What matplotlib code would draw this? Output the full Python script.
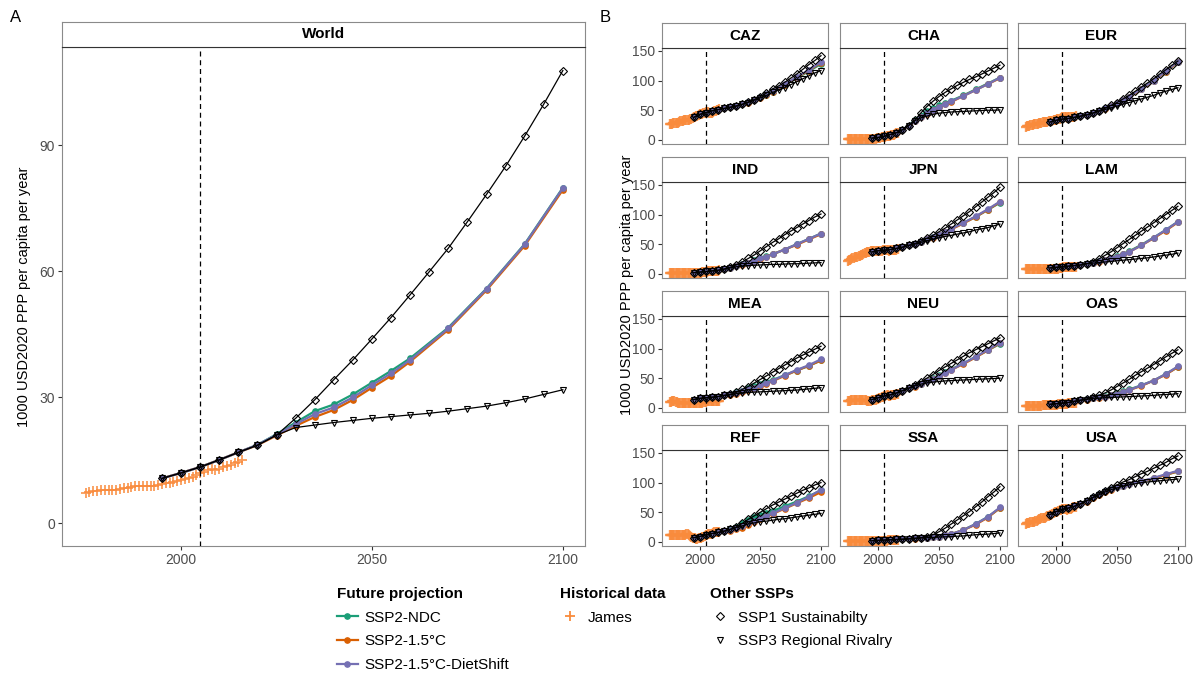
import numpy as np
import matplotlib.pyplot as plt
from matplotlib.lines import Line2D

plt.rcParams['font.family'] = ['Liberation Sans', 'DejaVu Sans']

W, H = 1202, 675

# ---- years ----
hist_years = np.arange(1975, 2017)
ssp_years = np.arange(1995, 2101, 5)
ssp2_years = [1995, 2000, 2005, 2010, 2015, 2020, 2025, 2030, 2035, 2040,
              2045, 2050, 2055, 2060, 2070, 2080, 2090, 2100]

# ---- World ----
world_hist = [7.3, 7.5, 7.7, 7.8, 7.9, 7.9, 7.9, 7.9, 8.0, 8.2,
              8.3, 8.4, 8.6, 8.8, 8.9, 9.0, 8.9, 8.9, 9.0, 9.1,
              9.3, 9.5, 9.7, 9.8, 10.1, 10.4, 10.5, 10.8, 11.1, 11.6,
              11.9, 12.3, 12.7, 12.9, 12.6, 13.0, 13.3, 13.6, 13.9, 14.3,
              14.7, 15.1]
world_ssp1 = [10.7, 12.0, 13.4, 15.1, 16.9, 18.6, 21.0, 25.0, 29.4, 34.2, 38.9,
              43.9, 49.0, 54.4, 59.9, 65.5, 71.8, 78.3, 85.0, 92.2, 99.8, 107.8]
world_ssp3 = [10.7, 12.0, 13.4, 15.1, 16.9, 18.6, 21.0, 22.8, 23.4, 24.0, 24.5,
              25.0, 25.4, 25.8, 26.2, 26.7, 27.3, 27.9, 28.7, 29.6, 30.7, 31.8]
world_ndc = [10.7, 12.0, 13.4, 15.1, 16.9, 18.7, 21.2, 24.0, 26.7, 28.3, 30.7,
             33.5, 36.3, 39.3, 46.6, 55.9, 66.5, 79.9]
world_15c = [10.7, 12.0, 13.4, 15.1, 16.9, 18.6, 20.9, 23.2, 25.3, 27.0, 29.4,
             32.3, 35.1, 38.5, 46.1, 55.5, 66.1, 79.4]
world_diet = [10.7, 12.0, 13.4, 15.1, 16.9, 18.7, 21.1, 23.6, 26.0, 27.6, 30.0,
              32.9, 35.7, 38.9, 46.4, 55.8, 66.4, 79.8]

# ---- regions ----
regions = ['CAZ', 'CHA', 'EUR', 'IND', 'JPN', 'LAM',
           'MEA', 'NEU', 'OAS', 'REF', 'SSA', 'USA']

caz_hist = [26, 27, 27, 28, 28, 29, 29, 29, 30, 31,
            32, 32, 33, 34, 34, 34, 34, 35, 36, 37,
            38, 39, 40, 41, 42, 43, 43, 44, 45, 46,
            47, 47, 47, 46, 45, 46, 47, 48, 49, 50,
            51, 52]
caz_ssp1 = [38, 43, 46, 49, 51, 53, 55, 57, 60, 64, 68, 73, 79, 86, 91, 97, 104, 111, 119, 127, 134, 142]
caz_ssp3 = [38, 43, 46, 49, 51, 53, 55, 57, 60, 63, 67, 71, 75, 80, 84, 88, 93, 98, 103, 108, 113, 117]
caz_ndc = [38, 43, 46, 49, 51, 53, 55, 57, 60, 64, 67, 72, 76, 81, 93, 104, 116, 128]
caz_15c = [38, 43, 46, 49, 51, 53, 55, 57, 60, 63, 67, 71, 76, 81, 93, 105, 117, 130]
caz_diet = [38, 43, 46, 49, 51, 53, 55, 57, 60, 64, 67, 72, 77, 82, 94, 106, 118, 131]

cha_hist = [1, 1, 1, 1, 1, 1, 1, 1, 1, 1,
            1, 1, 1, 1, 1, 1, 1, 1, 2, 2,
            2, 2, 2, 2, 3, 3, 3, 3, 4, 4,
            5, 5, 6, 6, 7, 7, 8, 9, 9, 10,
            11, 12]
cha_ssp1 = [3, 4, 6, 9, 12, 17, 24, 33, 45, 56, 65, 73, 80, 86, 92, 97, 102, 106, 111, 116, 121, 126]
cha_ssp3 = [3, 4, 6, 9, 12, 17, 24, 32, 37, 40, 43, 45, 46, 47, 47.5, 48, 48.5, 49, 49.5, 50, 50, 50.5]
cha_ndc = [3, 4, 6, 9, 12, 17, 24, 33, 41, 48, 53, 58, 62, 66, 75, 85, 95, 105]
cha_15c = [3, 4, 6, 9, 12, 17, 23, 31, 38, 44, 50, 55, 60, 64, 74, 84, 94, 104]
cha_diet = [3, 4, 6, 9, 12, 17, 24, 32, 39, 45, 51, 56, 61, 65, 74, 84, 94, 105]

eur_hist = [22, 23, 24, 24, 25, 25, 25, 26, 26, 27,
            27, 28, 28, 29, 30, 30, 30, 30, 30, 31,
            31, 32, 32, 33, 34, 34, 35, 35, 36, 37,
            38, 38, 39, 38, 37, 38, 38, 38, 38, 39,
            39, 40]
eur_ssp1 = [30, 33, 35, 36, 38, 40, 42, 45, 49, 53, 58, 63, 69, 75, 82, 89, 96, 103, 111, 118, 126, 133]
eur_ssp3 = [30, 33, 35, 36, 38, 40, 42, 45, 48, 51, 54, 57, 60, 63, 66, 69, 72, 75, 79, 82, 85, 88]
eur_ndc = [30, 33, 35, 36, 38, 40, 42, 45, 49, 53, 57, 62, 67, 73, 86, 100, 115, 131]
eur_15c = [30, 33, 35, 36, 38, 40, 42, 45, 48, 52, 57, 62, 67, 72, 85, 99, 115, 131]
eur_diet = [30, 33, 35, 36, 38, 40, 42, 45, 49, 53, 57, 62, 67, 73, 86, 100, 116, 132]

ind_hist = [1, 1, 1, 1, 1, 1, 1, 1, 1, 1,
            1, 1, 1, 1, 1, 2, 2, 2, 2, 2,
            2, 2, 2, 2, 2, 2, 2, 3, 3, 3,
            3, 3, 4, 4, 4, 4, 4, 5, 5, 5,
            5, 6]
ind_ssp1 = [2, 3, 4, 5, 6, 8, 11, 15, 20, 26, 32, 39, 46, 53, 59, 66, 72, 78, 84, 90, 96, 101]
ind_ssp3 = [2, 3, 4, 5, 6, 8, 10, 12, 13, 14, 14.5, 15, 15.5, 16, 16, 16.5, 17, 17, 17.5, 18, 18.5, 19]
ind_ndc = [2, 3, 4, 5, 6, 8, 10, 13, 16, 19, 23, 26, 30, 33, 41, 50, 59, 68]
ind_15c = [2, 3, 4, 5, 6, 8, 10, 13, 15, 18, 22, 25, 29, 33, 41, 49, 58, 67]
ind_diet = [2, 3, 4, 5, 6, 8, 10, 13, 16, 19, 22, 26, 29, 33, 41, 50, 59, 68]

jpn_hist = [22, 23, 24, 25, 26, 27, 28, 28, 29, 30,
            30, 31, 32, 33, 35, 36, 37, 37, 37, 38,
            38, 38, 38, 38, 38, 38, 39, 39, 39, 40,
            40, 40, 41, 40, 38, 40, 40, 40, 41, 41,
            41, 42]
jpn_ssp1 = [37, 39, 40, 41, 43, 45, 48, 51, 55, 60, 65, 71, 77, 84, 91, 98, 105, 113, 121, 129, 137, 146]
jpn_ssp3 = [37, 39, 40, 41, 43, 45, 48, 50, 53, 56, 58, 61, 63, 65, 67, 69, 71, 74, 76, 78, 81, 84]
jpn_ndc = [37, 39, 40, 41, 43, 45, 48, 51, 54, 58, 62, 66, 71, 76, 86, 96, 108, 120]
jpn_15c = [37, 39, 40, 41, 43, 45, 48, 51, 54, 58, 61, 66, 70, 75, 85, 96, 108, 121]
jpn_diet = [37, 39, 40, 41, 43, 45, 48, 51, 54, 58, 62, 66, 71, 76, 86, 97, 109, 122]

lam_hist = [8, 8, 9, 9, 9, 9, 9, 9, 8, 8,
            8, 8, 8, 8, 8, 8, 8, 8, 8, 9,
            9, 9, 9, 9, 9, 9, 9, 9, 10, 10,
            10, 11, 11, 11, 11, 11, 12, 12, 12, 12,
            12, 12]
lam_ssp1 = [10, 11, 12, 13, 14, 15, 17, 20, 25, 31, 37, 44, 51, 58, 65, 72, 79, 86, 93, 100, 107, 114]
lam_ssp3 = [10, 11, 12, 13, 14, 15, 17, 18, 19, 20, 21, 22, 23, 24, 25, 26, 27, 28.5, 30, 31.5, 33, 35]
lam_ndc = [10, 11, 12, 13, 14, 15, 17, 19, 21, 24, 27, 30, 34, 38, 49, 61, 74, 88]
lam_15c = [10, 11, 12, 13, 14, 15, 16, 18, 20, 23, 26, 29, 33, 37, 48, 60, 73, 87]
lam_diet = [10, 11, 12, 13, 14, 15, 17, 19, 21, 23, 26, 29, 33, 37, 48, 61, 74, 88]

mea_hist = [10, 10, 11, 11, 11, 10, 10, 9, 9, 8,
            8, 8, 8, 8, 8, 8, 8, 8, 8, 8,
            8, 8, 8, 8, 8, 9, 9, 9, 10, 10,
            10, 11, 11, 11, 11, 11, 11, 12, 12, 12,
            12, 12]
mea_ssp1 = [14, 16, 17, 18, 19, 21, 23, 26, 31, 36, 42, 48, 54, 60, 66, 72, 78, 84, 89, 94, 99, 104]
mea_ssp3 = [14, 16, 17, 18, 19, 21, 22, 24, 25, 26, 26.5, 27, 27.5, 28, 28.5, 29, 29.5, 30, 31, 32, 33, 34]
mea_ndc = [14, 16, 17, 18, 19, 21, 23, 26, 29, 33, 37, 41, 44, 47, 55, 63, 71, 80]
mea_15c = [14, 16, 17, 18, 19, 21, 22, 24, 27, 30, 33, 37, 41, 45, 54, 63, 71, 80]
mea_diet = [14, 16, 17, 18, 19, 21, 23, 25, 28, 31, 34, 38, 42, 46, 55, 64, 72, 82]

neu_hist = [12, 12, 12, 13, 13, 13, 13, 13, 13, 13,
            13, 13, 13, 13, 13, 13, 12, 12, 12, 12,
            13, 13, 14, 14, 15, 15, 16, 17, 18, 19,
            20, 20, 21, 21, 20, 20, 21, 21, 22, 22,
            23, 23]
neu_ssp1 = [14, 17, 20, 22, 25, 29, 33, 38, 44, 50, 56, 63, 69, 75, 81, 87, 93, 98, 103, 108, 113, 118]
neu_ssp3 = [14, 17, 20, 22, 25, 29, 33, 37, 40, 42, 43.5, 44.5, 45.5, 46, 46.5, 47, 47.5, 48, 48.5, 49, 49.5, 50]
neu_ndc = [14, 17, 20, 22, 25, 29, 33, 37, 41, 46, 50, 55, 60, 65, 75, 86, 97, 108]
neu_15c = [14, 17, 20, 22, 25, 29, 33, 36, 40, 45, 49, 54, 59, 64, 74, 85, 97, 109]
neu_diet = [14, 17, 20, 22, 25, 29, 33, 37, 41, 45, 49, 54, 59, 64, 75, 86, 98, 110]

oas_hist = [3, 3, 3, 3, 3, 3, 3, 3, 3, 3,
            3, 3, 3, 3, 4, 4, 4, 4, 4, 4,
            4, 5, 5, 5, 5, 5, 5, 6, 6, 6,
            6, 7, 7, 7, 7, 8, 8, 8, 8, 9,
            9, 9]
oas_ssp1 = [6, 7, 8, 9, 11, 13, 15, 18, 21, 25, 30, 36, 42, 48, 55, 61, 67, 73, 79, 86, 92, 98]
oas_ssp3 = [6, 7, 8, 9, 11, 13, 14, 16, 16.5, 17, 17.5, 18, 18.5, 19, 19.5, 20, 20.5, 21, 22, 22.5, 23, 24]
oas_ndc = [6, 7, 8, 9, 11, 13, 15, 16, 18, 20, 22, 25, 28, 31, 38, 46, 57, 69]
oas_15c = [6, 7, 8, 9, 11, 13, 14, 16, 17, 19, 21, 24, 27, 30, 37, 46, 56, 69]
oas_diet = [6, 7, 8, 9, 11, 13, 15, 16, 18, 19, 21, 24, 27, 30, 38, 46, 57, 70]

ref_hist = [12, 12, 12, 12, 12, 12, 12, 12, 12, 12,
            12, 12, 12, 12, 13, 13, 12, 10, 8, 7,
            6, 6, 5, 5, 6, 7, 7, 8, 9, 10,
            11, 12, 13, 14, 13, 14, 15, 16, 16, 17,
            17, 17]
ref_ssp1 = [7, 9, 12, 14, 16, 18, 21, 25, 31, 38, 44, 50, 56, 62, 67, 72, 77, 82, 87, 91, 96, 100]
ref_ssp3 = [7, 9, 12, 14, 16, 18, 21, 24, 27, 30, 32, 34, 35, 36.5, 38, 39, 40.5, 42, 43.5, 45, 46.5, 48]
ref_ndc = [7, 9, 12, 14, 16, 18, 21, 25, 31, 37, 42, 46, 49, 52, 60, 68, 77, 87]
ref_15c = [7, 9, 12, 14, 16, 18, 19, 21, 24, 28, 33, 38, 43, 47, 56, 65, 74, 84]
ref_diet = [7, 9, 12, 14, 16, 18, 20, 23, 27, 32, 36, 40, 44, 48, 57, 66, 76, 88]

ssa_hist = [2, 2, 2, 2, 2, 2, 2, 2, 2, 2,
            2, 2, 2, 2, 2, 2, 2, 2, 2, 2,
            2, 2, 2, 2, 2, 2, 2, 2, 2, 2,
            2, 2, 2, 3, 3, 3, 3, 3, 3, 3,
            3, 3]
ssa_ssp1 = [2, 2.5, 3, 3.5, 4, 4.5, 5, 6, 7, 9, 12, 17, 23, 30, 37, 44, 51, 59, 67, 76, 84, 93]
ssa_ssp3 = [2, 2.5, 3, 3.5, 4, 4.5, 5, 6, 6.5, 7, 7.5, 8, 8.5, 9, 9.5, 10, 11, 12, 12.5, 13, 14, 15]
ssa_ndc = [2, 2.5, 3, 3.5, 4, 4.5, 5, 6, 6.5, 7, 8, 9, 11, 13, 20, 30, 42, 57]
ssa_15c = [2, 2.5, 3, 3.5, 4, 4.5, 5, 5.5, 6, 7, 8, 9, 11, 13, 20, 29, 41, 57]
ssa_diet = [2, 2.5, 3, 3.5, 4, 4.5, 5, 6, 6.5, 7, 8, 9, 11, 13, 20, 30, 42, 58]

usa_hist = [30, 31, 32, 32, 33, 33, 33, 34, 35, 36,
            37, 38, 39, 40, 41, 41, 41, 42, 43, 44,
            45, 46, 47, 48, 50, 51, 51, 52, 53, 54,
            55, 56, 56, 55, 54, 55, 56, 56, 57, 58,
            58, 59]
usa_ssp1 = [46, 51, 55, 57, 60, 64, 69, 75, 81, 86, 91, 96, 101, 105, 110, 115, 119, 124, 129, 134, 140, 145]
usa_ssp3 = [46, 51, 55, 57, 60, 64, 69, 74, 79, 84, 88, 91, 94, 96, 98, 100, 101, 102, 103, 104, 105, 106]
usa_ndc = [46, 51, 55, 57, 60, 64, 69, 75, 80, 85, 89, 92, 95, 97, 102, 107, 113, 119]
usa_15c = [46, 51, 55, 57, 60, 64, 68, 74, 79, 84, 88, 92, 95, 97, 102, 107, 113, 119]
usa_diet = [46, 51, 55, 57, 60, 64, 69, 75, 80, 85, 89, 92, 95, 97, 102, 108, 114, 120]

regional = {
    'CAZ': (caz_hist, caz_ssp1, caz_ssp3, caz_ndc, caz_15c, caz_diet),
    'CHA': (cha_hist, cha_ssp1, cha_ssp3, cha_ndc, cha_15c, cha_diet),
    'EUR': (eur_hist, eur_ssp1, eur_ssp3, eur_ndc, eur_15c, eur_diet),
    'IND': (ind_hist, ind_ssp1, ind_ssp3, ind_ndc, ind_15c, ind_diet),
    'JPN': (jpn_hist, jpn_ssp1, jpn_ssp3, jpn_ndc, jpn_15c, jpn_diet),
    'LAM': (lam_hist, lam_ssp1, lam_ssp3, lam_ndc, lam_15c, lam_diet),
    'MEA': (mea_hist, mea_ssp1, mea_ssp3, mea_ndc, mea_15c, mea_diet),
    'NEU': (neu_hist, neu_ssp1, neu_ssp3, neu_ndc, neu_15c, neu_diet),
    'OAS': (oas_hist, oas_ssp1, oas_ssp3, oas_ndc, oas_15c, oas_diet),
    'REF': (ref_hist, ref_ssp1, ref_ssp3, ref_ndc, ref_15c, ref_diet),
    'SSA': (ssa_hist, ssa_ssp1, ssa_ssp3, ssa_ndc, ssa_15c, ssa_diet),
    'USA': (usa_hist, usa_ssp1, usa_ssp3, usa_ndc, usa_15c, usa_diet),
}

# ---- styling ----
COL_NDC = '#1B9E77'
COL_15C = '#D95F02'
COL_DIET = '#7570B3'
COL_HIST = '#F98B3C'
FRAME = '#8a8a8a'
YLABEL = '1000 USD2020 PPP per capita per year'
XLIM = (1968.8, 2105.8)


def box(x0, y0, x1, y1):
    """pixel box (top-left origin) -> figure fraction rect"""
    return [x0 / W, 1 - y1 / H, (x1 - x0) / W, (y1 - y0) / H]


def add_strip(fig, x0, y0, x1, y1, label):
    sax = fig.add_axes(box(x0, y0, x1, y1))
    sax.set_xticks([])
    sax.set_yticks([])
    for side in ['top', 'left', 'right']:
        sax.spines[side].set_color(FRAME)
    sax.spines['bottom'].set_color('#333333')
    sax.text(0.5, 0.5, label, ha='center', va='center', fontsize=11,
             fontweight='bold', transform=sax.transAxes)


def draw_panel(ax, hist, ssp1, ssp3, ndc, c15, diet, hist_mew=1.3):
    ax.plot(hist_years, hist, linestyle='none', marker='+', ms=7, mew=hist_mew,
            color=COL_HIST, alpha=0.85, zorder=2)
    for vals, col in [(ndc, COL_NDC), (c15, COL_15C), (diet, COL_DIET)]:
        ax.plot(ssp2_years, vals, '-o', color=col, lw=1.6, ms=3.8, zorder=3)
    ax.axvline(2005, color='black', ls=(0, (4, 3)), lw=0.9, zorder=4)
    ax.plot(ssp_years, ssp3, '-v', color='black', lw=0.9, ms=5.0,
            mfc='none', mew=0.8, zorder=5)
    ax.plot(ssp_years, ssp1, '-D', color='black', lw=0.9, ms=4.3,
            mfc='none', mew=0.8, zorder=5)
    ax.set_xlim(*XLIM)
    ax.set_xticks([2000, 2050, 2100])
    for sp in ax.spines.values():
        sp.set_color(FRAME)
    ax.tick_params(length=3, width=0.8, color='#333333', labelsize=10,
                   labelcolor='#4d4d4d', pad=2)


fig = plt.figure(figsize=(W / 100, H / 100), dpi=100)

# panel A: world
axw = fig.add_axes(box(62, 47, 585, 546))
draw_panel(axw, world_hist, world_ssp1, world_ssp3, world_ndc, world_15c, world_diet)
axw.set_ylim(-5.4, 113.4)
axw.set_yticks([0, 30, 60, 90])
axw.set_ylabel(YLABEL, fontsize=10.5, labelpad=6)
add_strip(fig, 62, 22, 585, 47, 'World')

# panel B: regions, 4 x 3 facets
col_x = [(662, 828), (840, 1007), (1018, 1185)]
row_top = [23, 157, 291, 425]
for i, reg in enumerate(regions):
    r, c = divmod(i, 3)
    x0, x1 = col_x[c]
    y0 = row_top[r]
    ax = fig.add_axes(box(x0, y0 + 25, x1, y0 + 121))
    draw_panel(ax, *regional[reg], hist_mew=1.7)
    ax.set_ylim(-7, 155)
    ax.set_yticks([0, 50, 100, 150])
    if c != 0:
        ax.tick_params(labelleft=False, left=False)
    if r != 3:
        ax.tick_params(labelbottom=False, bottom=False)
    add_strip(fig, x0, y0, x1, y0 + 25, reg)

fig.text(627 / W, 1 - 285 / H, YLABEL, rotation=90, ha='center', va='center',
         fontsize=10.5)
fig.text(10 / W, 1 - 18 / H, 'A', fontsize=12, va='center')
fig.text(600 / W, 1 - 18 / H, 'B', fontsize=12, va='center')

# legends
leg_kw = dict(frameon=False, loc='upper left', fontsize=11, borderpad=0,
              borderaxespad=0, labelspacing=0.63, handlelength=1.35,
              handletextpad=0.45, alignment='left',
              title_fontproperties={'weight': 'bold', 'size': 11})
fut_handles = [Line2D([], [], color=c, marker='o', lw=1.6, ms=3.8)
               for c in (COL_NDC, COL_15C, COL_DIET)]
fig.legend(fut_handles, ['SSP2-NDC', 'SSP2-1.5°C', 'SSP2-1.5°C-DietShift'],
           title='Future projection', bbox_to_anchor=(337 / W, 1 - 587 / H), **leg_kw)
hist_handles = [Line2D([], [], color=COL_HIST, marker='+', ls='none', ms=7, mew=1.3)]
fig.legend(hist_handles, ['James'], title='Historical data',
           bbox_to_anchor=(560 / W, 1 - 587 / H), **leg_kw)
ssp_handles = [Line2D([], [], color='black', marker='D', ls='none', ms=4.3, mfc='none', mew=0.8),
               Line2D([], [], color='black', marker='v', ls='none', ms=5.0, mfc='none', mew=0.8)]
fig.legend(ssp_handles, ['SSP1 Sustainabilty', 'SSP3 Regional Rivalry'], title='Other SSPs',
           bbox_to_anchor=(710 / W, 1 - 587 / H), **leg_kw)

fig.savefig('out.png', dpi=100)
